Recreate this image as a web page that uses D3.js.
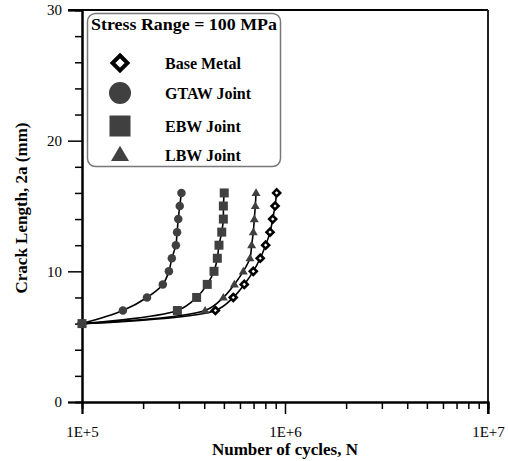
<!DOCTYPE html>
<html>
<head>
<meta charset="utf-8">
<script src="https://cdn.jsdelivr.net/npm/d3@7"></script>
<style>
  body { margin: 0; background: #fff; }
  svg, svg text { font-family: "Liberation Serif", "Times New Roman", serif; }
  svg { display: block; }
</style>
</head>
<body>
<svg id="chart" width="508" height="461"></svg>
<script>
// ---- Data ----
const seriesNames = ["Base Metal", "GTAW Joint", "EBW Joint", "LBW Joint"];
const crackLength = [6, 7, 8, 9, 10, 11, 12, 13, 14, 15, 16];
const cyclesBase = [1e5, 4.54e5, 5.56e5, 6.3e5, 6.98e5, 7.55e5, 8.03e5, 8.44e5, 8.7e5, 8.93e5, 9.1e5];
const cyclesGTAW = [1e5, 1.59e5, 2.09e5, 2.5e5, 2.68e5, 2.77e5, 2.9e5, 2.94e5, 2.98e5, 3.03e5, 3.09e5];
const cyclesEBW  = [1e5, 2.95e5, 3.67e5, 4.14e5, 4.47e5, 4.64e5, 4.73e5, 4.88e5, 4.97e5, 4.97e5, 5.02e5];
const cyclesLBW  = [1e5, 4.04e5, 4.97e5, 5.63e5, 6.23e5, 6.72e5, 6.85e5, 6.98e5, 7.06e5, 7.14e5, 7.2e5];
const xMajorTicks = [1e5, 1e6, 1e7];
const xTickLabels = ["1E+5", "1E+6", "1E+7"];
const yMajorTicks = [0, 10, 20, 30];
const yMinorTicks = [2, 4, 6, 8, 12, 14, 16, 18, 22, 24, 26, 28];
const legendTitle = "Stress Range = 100 MPa";
const xTitle = "Number of cycles, N";
const yTitle = "Crack Length, 2a (mm)";

const seriesCycles = [cyclesBase, cyclesGTAW, cyclesEBW, cyclesLBW];
const symbols = ["diamond", "circle", "square", "triangle"];
const gray = "#404040";
const FONT = "'Liberation Serif', 'Times New Roman', serif";

const svg = d3.select("#chart");
const L = 82, R = 488, T = 10, B = 402;

const x = d3.scaleLog().domain([1e5, 1e7]).range([L, R]);
const y = d3.scaleLinear().domain([0, 30]).range([B, T]);

// minor x ticks
const xMinor = [];
[1e5, 1e6].forEach(d => { for (let k = 2; k <= 9; k++) xMinor.push(d * k); });

// ---- Frame (top & right) ----
svg.append("line").attr("x1", L - 14).attr("x2", R).attr("y1", T).attr("y2", T)
  .attr("stroke", "#000").attr("stroke-width", 2);
svg.append("line").attr("x1", R).attr("x2", R).attr("y1", T).attr("y2", B + 12)
  .attr("stroke", "#222").attr("stroke-width", 2);

// ---- Axes ----
const gx = svg.append("g").attr("transform", `translate(0,${B})`);
gx.call(d3.axisBottom(x).tickValues(xMinor).tickSize(7).tickFormat(""));
const gxM = svg.append("g").attr("transform", `translate(0,${B})`);
gxM.call(d3.axisBottom(x).tickValues(xMajorTicks).tickSize(12).tickPadding(12)
  .tickFormat((d, i) => xTickLabels[i]));

const gy = svg.append("g").attr("transform", `translate(${L},0)`);
gy.call(d3.axisLeft(y).tickValues(yMinorTicks).tickSize(7).tickFormat(""));
const gyM = svg.append("g").attr("transform", `translate(${L},0)`);
gyM.call(d3.axisLeft(y).tickValues(yMajorTicks).tickSize(14).tickPadding(6));

svg.selectAll("g").attr("font-family", null);
svg.selectAll(".domain").attr("stroke", "#000").attr("stroke-width", 2);
svg.selectAll(".tick line").attr("stroke", "#000").attr("stroke-width", 1.5);
svg.selectAll(".tick text").style("font-family", FONT).attr("font-size", 15).attr("fill", "#000");

// ---- Axis titles ----
svg.append("text").attr("x", (L + R) / 2).attr("y", 455).attr("text-anchor", "middle")
  .style("font-family", FONT).attr("font-size", 17).attr("font-weight", "bold").text(xTitle);
svg.append("text").attr("transform", `translate(27,208) rotate(-90)`).attr("text-anchor", "middle")
  .style("font-family", FONT).attr("font-size", 17).attr("font-weight", "bold").text(yTitle);

// ---- Lines ----
const lineGen = d3.line().x(d => x(d[0])).y(d => y(d[1])).curve(d3.curveCatmullRom.alpha(0.5));

seriesCycles.forEach(cyc => {
  const pts = cyc.map((c, i) => [c, crackLength[i]]);
  svg.append("path").datum(pts).attr("d", lineGen)
    .attr("fill", "none").attr("stroke", "#000").attr("stroke-width", 1.6);
});

// ---- Markers ----
function drawSymbol(g, type, cx, cy, s, sw) {
  if (type === "circle") {
    g.append("circle").attr("cx", cx).attr("cy", cy).attr("r", s / 2).attr("fill", gray);
  } else if (type === "square") {
    g.append("rect").attr("x", cx - s / 2).attr("y", cy - s / 2).attr("width", s).attr("height", s).attr("fill", gray);
  } else if (type === "triangle") {
    const h = s * 0.85;
    g.append("path").attr("d", `M${cx},${cy - h * 0.6}L${cx + s / 2},${cy + h * 0.4}L${cx - s / 2},${cy + h * 0.4}Z`).attr("fill", gray);
  } else if (type === "diamond") {
    const r = s / 2;
    g.append("path").attr("d", `M${cx},${cy - r}L${cx + r},${cy}L${cx},${cy + r}L${cx - r},${cy}Z`)
      .attr("fill", "#fff").attr("stroke", "#000").attr("stroke-width", sw);
  }
}
const markerSize = { diamond: 7, circle: 8.5, square: 9, triangle: 9 };
const order = [0, 3, 1, 2];
order.forEach(si => {
  const g = svg.append("g");
  seriesCycles[si].forEach((c, i) => {
    drawSymbol(g, symbols[si], x(c), y(crackLength[i]), markerSize[symbols[si]], 2.6);
  });
});

// ---- Legend ----
const lg = svg.append("g");
lg.append("rect").attr("x", 87.5).attr("y", 13.5).attr("width", 193).attr("height", 153).attr("rx", 8)
  .attr("fill", "#fff").attr("stroke", "#777").attr("stroke-width", 1.5);
lg.append("text").attr("x", 91).attr("y", 30).style("font-family", FONT).attr("font-size", 17.5).attr("font-weight", "bold")
  .attr("textLength", 186).attr("lengthAdjust", "spacingAndGlyphs").text(legendTitle);
const legendY = [63, 93, 126, 155];
const legendSize = { diamond: 15, circle: 22, square: 21, triangle: 18 };
seriesNames.forEach((name, i) => {
  drawSymbol(lg, symbols[i], 120, legendY[i], legendSize[symbols[i]], 4);
  lg.append("text").attr("x", 165).attr("y", legendY[i] + 6).style("font-family", FONT)
    .attr("font-size", 16).attr("font-weight", "bold").text(name);
});
</script>
</body>
</html>
